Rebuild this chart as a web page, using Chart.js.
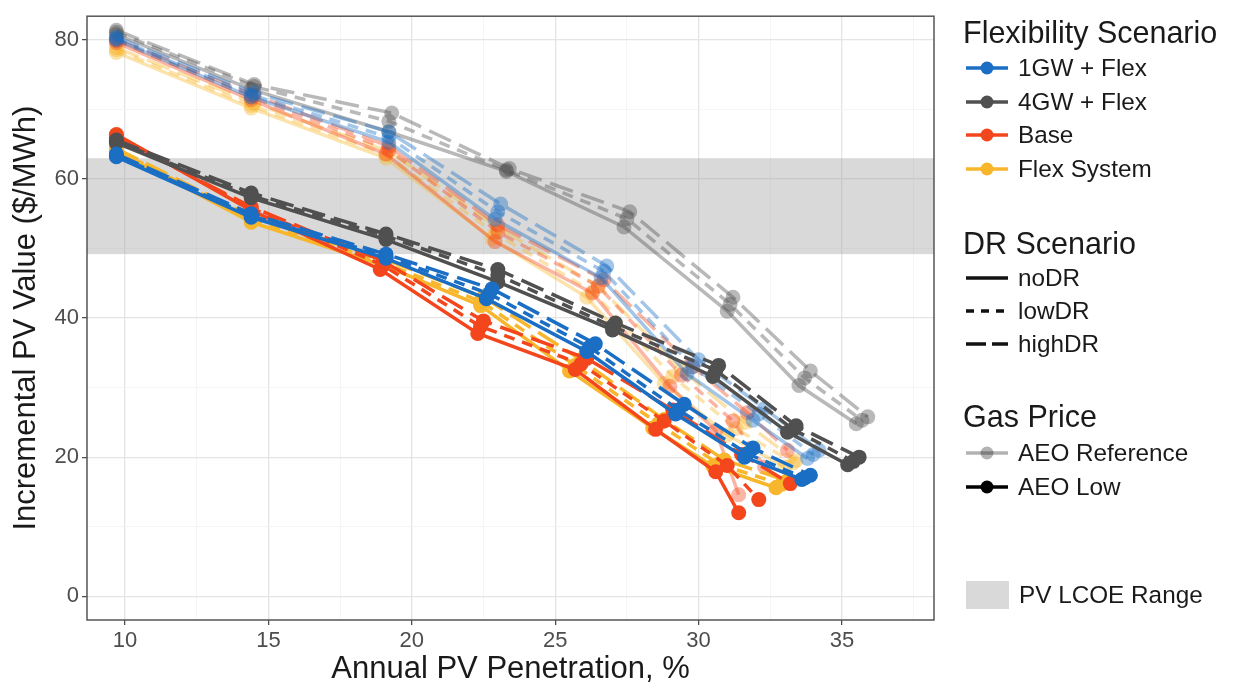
<!DOCTYPE html>
<html>
<head>
<meta charset="utf-8">
<script src="https://cdn.jsdelivr.net/npm/chart.js@4.4.1/dist/chart.umd.min.js"></script>
<style>
    body { margin: 0; background: #fff; font-family: "Liberation Sans", Arial, sans-serif; }
    #wrap { position: relative; width: 1234px; height: 691px; }
    canvas { position: absolute; left: 0; top: 0; }
    .lg { position: absolute; color: #1a1a1a; white-space: nowrap; }
    .lt { left: 963px; font-size: 30.5px; height: 34px; line-height: 34px; }
    .li { left: 966px; font-size: 24.3px; height: 30px; line-height: 30px; display: flex; align-items: center; }
    .li svg { margin-right: 10px; }
</style>
</head>
<body>
<div id="wrap">
    <canvas id="chart" width="1234" height="691"></canvas>
    <div id="legend"></div>
</div>
<script>
// Axis ticks and shaded range
const xTicks = [10, 12.5, 15, 17.5, 20, 22.5, 25, 27.5, 30, 32.5, 35, 37.5];
const yTicks = [0, 10, 20, 30, 40, 50, 60, 70, 80];
const lcoeRange = [49.2, 63];

const flexScenarios = ['1GW + Flex', '4GW + Flex', 'Base', 'Flex System'];
const drScenarios = ['noDR', 'lowDR', 'highDR'];
const gasPrices = ['AEO Reference', 'AEO Low'];

// AEO Low gas price: [penetration %, value $/MWh]
const low1GW_noDR   = [[9.7,63.2],[14.4,54.5],[19.1,48.6],[22.6,42.8],[26.1,35.2],[29.2,26.2],[31.6,20.0],[33.6,16.8]];
const low1GW_lowDR  = [[9.7,63.4],[14.4,54.7],[19.1,48.9],[22.7,43.5],[26.2,35.8],[29.3,26.8],[31.7,20.5],[33.7,17.0]];
const low1GW_highDR = [[9.7,63.6],[14.4,55.0],[19.1,49.2],[22.8,44.2],[26.4,36.3],[29.5,27.6],[31.9,21.3],[33.9,17.4]];

const low4GW_noDR   = [[9.7,65.2],[14.4,57.3],[19.1,51.3],[23.0,45.2],[27.0,38.3],[30.5,31.6],[33.1,23.6],[35.2,18.9]];
const low4GW_lowDR  = [[9.7,65.4],[14.4,57.6],[19.1,51.8],[23.0,46.2],[27.0,38.8],[30.6,32.5],[33.3,24.0],[35.4,19.4]];
const low4GW_highDR = [[9.7,65.6],[14.4,58.0],[19.1,52.1],[23.0,47.0],[27.1,39.3],[30.7,33.2],[33.4,24.5],[35.6,20.0]];

const lowBase_noDR   = [[9.7,66.4],[14.4,55.5],[18.9,47.0],[22.3,37.8],[25.7,32.6],[28.5,24.0],[30.6,17.9],[31.4,12.0]];
const lowBase_lowDR  = [[9.7,66.2],[14.4,55.8],[19.0,47.6],[22.4,38.8],[25.9,33.4],[28.8,25.2],[31.0,18.8],[32.1,13.9]];
const lowBase_highDR = [[9.7,66.0],[14.4,56.0],[19.0,48.2],[22.5,39.6],[26.1,34.2],[29.1,26.8],[31.5,20.4],[33.2,16.2]];

const lowFlex_noDR   = [[9.7,64.0],[14.4,53.8],[19.0,47.6],[22.4,41.8],[25.5,32.4],[28.4,24.2],[30.5,18.7],[32.7,15.6]];
const lowFlex_lowDR  = [[9.7,64.2],[14.4,54.2],[19.0,48.0],[22.4,42.4],[25.7,33.2],[28.6,24.8],[30.7,19.0],[32.9,16.1]];
const lowFlex_highDR = [[9.7,64.4],[14.4,54.6],[19.1,48.4],[22.5,43.0],[25.9,34.0],[28.8,25.4],[30.9,19.6],[33.1,16.6]];

// AEO Reference gas price
const ref1GW_noDR   = [[9.7,80.0],[14.4,71.8],[19.2,65.3],[22.9,54.2],[26.6,45.8],[29.6,32.0],[31.9,25.3],[33.8,19.8]];
const ref1GW_lowDR  = [[9.7,80.2],[14.4,72.1],[19.2,66.0],[23.0,55.3],[26.7,46.7],[29.8,33.0],[32.1,26.2],[34.0,20.4]];
const ref1GW_highDR = [[9.7,80.4],[14.5,72.4],[19.2,66.8],[23.1,56.4],[26.8,47.5],[30.0,34.0],[32.3,27.0],[34.2,21.0]];

const ref4GW_noDR   = [[9.7,80.8],[14.4,72.9],[19.2,66.8],[23.3,61.1],[27.4,53.1],[31.0,41.0],[33.5,30.3],[35.5,24.8]];
const ref4GW_lowDR  = [[9.7,81.1],[14.5,73.3],[19.2,68.3],[23.3,61.3],[27.5,54.3],[31.1,42.0],[33.7,31.4],[35.7,25.3]];
const ref4GW_highDR = [[9.7,81.4],[14.5,73.6],[19.3,69.5],[23.4,61.5],[27.6,55.3],[31.2,43.0],[33.9,32.4],[35.9,25.8]];

const refBase_noDR   = [[9.7,79.6],[14.4,71.4],[19.1,63.6],[22.9,51.0],[26.3,43.6],[29.0,30.2],[30.6,23.8],[31.4,14.6]];
const refBase_lowDR  = [[9.7,79.9],[14.4,71.8],[19.2,64.2],[23.0,52.4],[26.5,44.6],[29.4,31.8],[31.2,25.2],[32.3,18.6]];
const refBase_highDR = [[9.7,80.1],[14.5,72.1],[19.2,64.7],[23.0,53.4],[26.7,45.5],[29.8,33.0],[31.7,26.4],[33.1,21.0]];

const refFlex_noDR   = [[9.7,78.2],[14.4,70.2],[19.1,63.0],[22.8,51.4],[26.1,43.0],[28.8,30.6],[31.0,23.2],[33.0,18.6]];
const refFlex_lowDR  = [[9.7,78.6],[14.4,70.6],[19.1,63.5],[22.9,52.2],[26.3,43.8],[29.1,31.6],[31.3,24.1],[33.3,19.2]];
const refFlex_highDR = [[9.7,78.9],[14.5,70.9],[19.2,64.0],[23.0,53.0],[26.5,44.6],[29.4,32.6],[31.6,25.0],[33.4,19.5]];

const seriesTable = {
    'AEO Reference': [
        [ref1GW_noDR, ref1GW_lowDR, ref1GW_highDR],
        [ref4GW_noDR, ref4GW_lowDR, ref4GW_highDR],
        [refBase_noDR, refBase_lowDR, refBase_highDR],
        [refFlex_noDR, refFlex_lowDR, refFlex_highDR]
    ],
    'AEO Low': [
        [low1GW_noDR, low1GW_lowDR, low1GW_highDR],
        [low4GW_noDR, low4GW_lowDR, low4GW_highDR],
        [lowBase_noDR, lowBase_lowDR, lowBase_highDR],
        [lowFlex_noDR, lowFlex_lowDR, lowFlex_highDR]
    ]
};

// Styles
const flexColors = [[26, 110, 196], [80, 80, 80], [244, 70, 28], [247, 182, 44]];
const gasAlpha = { 'AEO Reference': 0.4, 'AEO Low': 1 };
const drDash = { noDR: [], lowDR: [11, 8], highDR: [24, 9] };

function rgba(c, a) {
    return `rgba(${c[0]}, ${c[1]}, ${c[2]}, ${a})`;
}

// Build datasets: reference first (drawn underneath), low on top
const datasets = [];
gasPrices.forEach(gas => {
    flexScenarios.forEach((flex, fi) => {
        drScenarios.forEach((dr, di) => {
            const color = rgba(flexColors[fi], gasAlpha[gas]);
            datasets.push({
                label: `${flex} / ${dr} / ${gas}`,
                data: seriesTable[gas][fi][di].map(p => ({ x: p[0], y: p[1] })),
                showLine: true,
                borderColor: color,
                backgroundColor: color,
                borderWidth: 3.5,
                borderDash: drDash[dr],
                pointRadius: 7.5,
                pointBorderWidth: 0,
                tension: 0,
                order: gas === 'AEO Low' ? 0 : 1
            });
        });
    });
});

// Shaded PV LCOE band and panel frame
const panelPlugin = {
    id: 'panel',
    beforeDatasetsDraw(chart) {
        const { ctx, chartArea: a, scales: { y } } = chart;
        const top = y.getPixelForValue(lcoeRange[1]);
        const bottom = y.getPixelForValue(lcoeRange[0]);
        ctx.save();
        ctx.fillStyle = 'rgba(150, 150, 150, 0.36)';
        ctx.fillRect(a.left, top, a.right - a.left, bottom - top);
        ctx.restore();
    },
    afterDraw(chart) {
        const { ctx, chartArea: a } = chart;
        ctx.save();
        ctx.strokeStyle = '#555';
        ctx.lineWidth = 1.5;
        ctx.strokeRect(a.left, a.top, a.right - a.left, a.bottom - a.top);
        ctx.restore();
    }
};

function gridOptions(majorStep) {
    return {
        color: c => (c.tick && c.tick.value % majorStep === 0) ? '#e4e4e4' : '#f2f2f2',
        lineWidth: c => (c.tick && c.tick.value % majorStep === 0) ? 1.3 : 0.8,
        tickColor: c => (c.tick && c.tick.value % majorStep === 0) ? '#444' : 'rgba(0,0,0,0)',
        tickLength: 5,
        tickWidth: 1.2
    };
}

Chart.defaults.font.family = '"Liberation Sans", Arial, sans-serif';

new Chart(document.getElementById('chart').getContext('2d'), {
    type: 'scatter',
    data: { datasets: datasets },
    options: {
        responsive: false,
        animation: false,
        layout: { padding: { left: 0, top: 10, right: 300, bottom: 0 } },
        plugins: {
            legend: { display: false },
            tooltip: { enabled: false }
        },
        scales: {
            x: {
                type: 'linear',
                min: 8.675,
                max: 38.21,
                afterBuildTicks: s => { s.ticks = xTicks.map(v => ({ value: v })); },
                afterFit: s => { s.height = 71; },
                border: { display: false },
                grid: gridOptions(5),
                ticks: {
                    color: '#4d4d4d',
                    font: { size: 22 },
                    padding: 3,
                    maxRotation: 0,
                    autoSkip: false,
                    callback: v => (v % 5 === 0 ? v : '')
                },
                title: {
                    display: true,
                    text: 'Annual PV Penetration, %',
                    color: '#1a1a1a',
                    font: { size: 31 },
                    padding: { top: 0, bottom: 3 }
                }
            },
            y: {
                type: 'linear',
                min: -3.42,
                max: 83.42,
                afterBuildTicks: s => { s.ticks = yTicks.map(v => ({ value: v })); },
                afterFit: s => { s.width = 87; },
                border: { display: false },
                grid: gridOptions(20),
                ticks: {
                    color: '#4d4d4d',
                    font: { size: 22 },
                    padding: 3,
                    autoSkip: false,
                    callback: v => (v % 20 === 0 ? v : '')
                },
                title: {
                    display: true,
                    text: 'Incremental PV Value ($/MWh)',
                    color: '#1a1a1a',
                    font: { size: 31 },
                    padding: { top: 8, bottom: 0 }
                }
            }
        }
    },
    plugins: [panelPlugin]
});

// Legend
function symbol(stroke, dash, dot) {
    const d = dash ? ` stroke-dasharray="${dash}"` : '';
    const c = dot ? `<circle cx="21" cy="15" r="6.5" fill="${stroke}"/>` : '';
    return `<svg width="42" height="30"><line x1="0" y1="15" x2="42" y2="15" stroke="${stroke}" stroke-width="3.5"${d}/>${c}</svg>`;
}

let html = '';
function title(text, cy) {
    html += `<div class="lg lt" style="top:${cy - 17}px">${text}</div>`;
}
function item(sym, text, cy) {
    html += `<div class="lg li" style="top:${cy - 15}px">${sym}${text}</div>`;
}

title('Flexibility Scenario', 32);
flexScenarios.forEach((f, i) => item(symbol(rgba(flexColors[i], 1), '', true), f, 68 + i * 33.5));

title('DR Scenario', 243);
item(symbol('#111', '', false), drScenarios[0], 278);
item(symbol('#111', '8 7', false), drScenarios[1], 311);
item(symbol('#111', '20 6', false), drScenarios[2], 344);

title('Gas Price', 416);
item(symbol('rgba(0,0,0,0.3)', '', true), gasPrices[0], 453);
item(symbol('#000', '', true), gasPrices[1], 487);

item('<svg width="43" height="28"><rect x="0" y="0" width="43" height="28" fill="#d9d9d9"/></svg>', 'PV LCOE Range', 595);

document.getElementById('legend').innerHTML = html;
</script>
</body>
</html>
